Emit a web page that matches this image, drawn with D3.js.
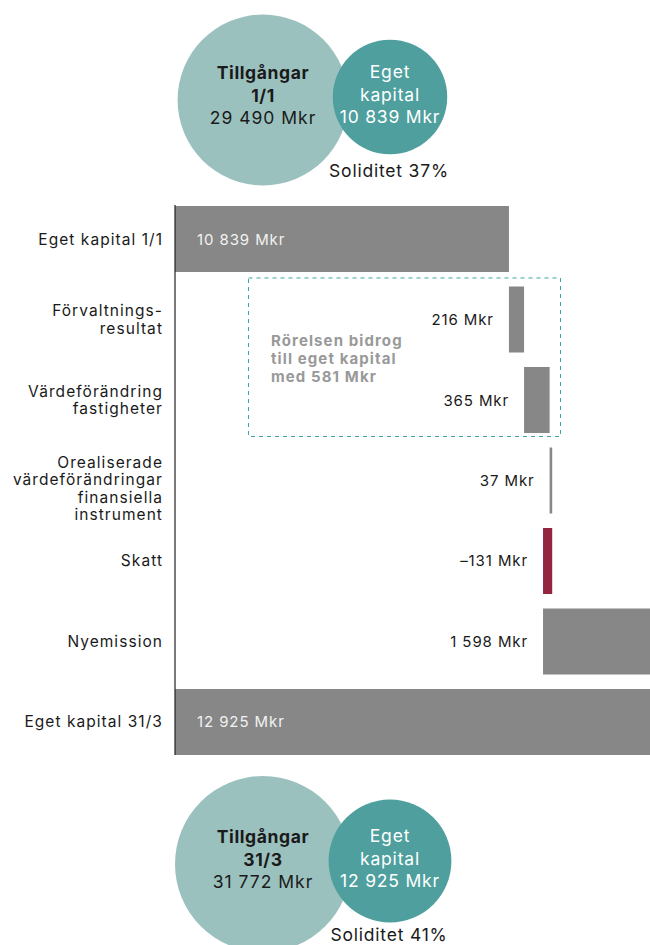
<!DOCTYPE html>
<html>

<head>
    <title>Eget kapital</title>
    <script src="https://d3js.org/d3.v7.min.js"></script>
    <style>
        body {
            margin: 0;
            background: #fff;
        }

        svg text {
            font-family: Inter, "Open Sans", sans-serif;
        }
    </style>
</head>

<body>
    <div id="chart"></div>
    <script>
        // circle data (top = 1/1, bottom = 31/3)
        const circleTitles = [["Tillgångar", "1/1"], ["Tillgångar", "31/3"]];
        const assets = [29490, 31772];
        const assetLabels = ["29 490 Mkr", "31 772 Mkr"];
        const equity = [10839, 12925];
        const equityLabels = ["10 839 Mkr", "12 925 Mkr"];
        const solidity = ["Soliditet 37%", "Soliditet 41%"];

        // waterfall data
        const categories = [
            ["Eget kapital 1/1"],
            ["Förvaltnings-", "resultat"],
            ["Värdeförändring", "fastigheter"],
            ["Orealiserade", "värdeförändringar", "finansiella", "instrument"],
            ["Skatt"],
            ["Nyemission"],
            ["Eget kapital 31/3"]
        ];
        const values = [10839, 216, 365, 37, -131, 1598, 12925];
        const valueLabels = ["10 839 Mkr", "216 Mkr", "365 Mkr", "37 Mkr", "–131 Mkr", "1 598 Mkr", "12 925 Mkr"];
        const isTotal = [true, false, false, false, false, false, true];
        const boxText = ["Rörelsen bidrog", "till eget kapital", "med 581 Mkr"];

        const W = 650, H = 945;
        const svg = d3.select("#chart").append("svg")
            .attr("width", W).attr("height", H);

        // ---- circles ----
        const r = d3.scalePow().exponent(0.4).domain([0, 31772]).range([0, 88]);
        const circleCY = [100, 864];

        circleCY.forEach((cy, i) => {
            const g = svg.append("g");
            const bigX = 263, smallX = 390, smallY = cy - 3;
            g.append("circle").attr("cx", bigX).attr("cy", cy).attr("r", r(assets[i]))
                .attr("fill", "#9bc1bf");
            g.append("circle").attr("cx", smallX).attr("cy", smallY).attr("r", r(equity[i]))
                .attr("fill", "#4e9f9e");

            const bigLines = [circleTitles[i][0], circleTitles[i][1], assetLabels[i]];
            g.selectAll(".bt").data(bigLines).join("text")
                .attr("x", bigX).attr("y", (d, j) => cy - 21 + j * 22.5)
                .attr("text-anchor", "middle")
                .attr("font-size", 17.5)
                .attr("letter-spacing", (d, j) => j < 2 ? 0.6 : 1)
                .attr("font-weight", (d, j) => j < 2 ? 700 : 400)
                .attr("fill", "#1a1a1a")
                .text(d => d);

            const smallLines = ["Eget", "kapital", equityLabels[i]];
            g.selectAll(".st").data(smallLines).join("text")
                .attr("x", smallX).attr("y", (d, j) => smallY - 19 + j * 22.5)
                .attr("text-anchor", "middle")
                .attr("font-size", 17.5)
                .attr("letter-spacing", 0.8)
                .attr("fill", "#fff")
                .text(d => d);

            g.append("text").attr("x", 389).attr("y", smallY + 80)
                .attr("text-anchor", "middle").attr("font-size", 17.5)
                .attr("letter-spacing", 0.8)
                .attr("fill", "#1a1a1a").text(solidity[i]);
        });

        // ---- waterfall ----
        const idx = d3.range(categories.length);
        const y = d3.scaleBand().domain(idx).range([206, 755])
            .paddingInner(0.18).paddingOuter(0);
        const x = d3.scaleLinear().domain([6070, 12925]).range([175, 655]);

        // running start/end per bar
        let run = 0;
        const bars = idx.map(i => {
            let a, b;
            if (isTotal[i]) { a = x.domain()[0]; b = values[i]; run = values[i]; }
            else { a = run; b = run + values[i]; run = b; }
            return { i, x0: Math.min(a, b), x1: Math.max(a, b) };
        });

        // dashed box around operating items
        svg.append("rect")
            .attr("x", 248.5).attr("y", y(1) - 8.5)
            .attr("width", 312).attr("height", y(2) + y.bandwidth() - y(1) + 12)
            .attr("fill", "none").attr("stroke", "#3aa6a5")
            .attr("stroke-width", 1).attr("stroke-dasharray", "4,4");

        svg.selectAll(".box-text").data(boxText).join("text")
            .attr("x", 271).attr("y", (d, j) => 346 + j * 18)
            .attr("font-size", 15).attr("font-weight", 700)
            .attr("letter-spacing", 1.1)
            .attr("fill", "#999")
            .text(d => d);

        svg.selectAll(".bar").data(bars).join("rect")
            .attr("x", d => x(d.x0))
            .attr("y", d => y(d.i))
            .attr("width", d => Math.max(x(d.x1) - x(d.x0), 2.5))
            .attr("height", y.bandwidth())
            .attr("fill", d => values[d.i] < 0 ? "#932541" : "#878787");

        // value labels
        svg.selectAll(".val").data(bars).join("text")
            .attr("x", d => isTotal[d.i] ? 197 : x(d.x0) - 15)
            .attr("y", d => y(d.i) + y.bandwidth() / 2 + 5.5)
            .attr("text-anchor", d => isTotal[d.i] ? "start" : "end")
            .attr("font-size", 15)
            .attr("letter-spacing", 0.9)
            .attr("fill", d => isTotal[d.i] ? "#f2f2f2" : "#1a1a1a")
            .text(d => valueLabels[d.i]);

        // category labels
        const lh = 17.5;
        const cat = svg.selectAll(".cat").data(idx).join("text")
            .attr("text-anchor", "end")
            .attr("font-size", 15.5)
            .attr("letter-spacing", 1.05)
            .attr("fill", "#1a1a1a");
        cat.selectAll("tspan").data(i => categories[i].map((t, j) => ({ t, j, n: categories[i].length, i })))
            .join("tspan")
            .attr("x", 163)
            .attr("y", d => y(d.i) + y.bandwidth() / 2 + 5.5 + (d.j - (d.n - 1) / 2) * lh + (d.n > 2 ? 8 : 0))
            .text(d => d.t);

        // axis line
        svg.append("line")
            .attr("x1", 175).attr("x2", 175)
            .attr("y1", 205).attr("y2", 755)
            .attr("stroke", "#222").attr("stroke-width", 1.2);
    </script>

</body>

</html>
